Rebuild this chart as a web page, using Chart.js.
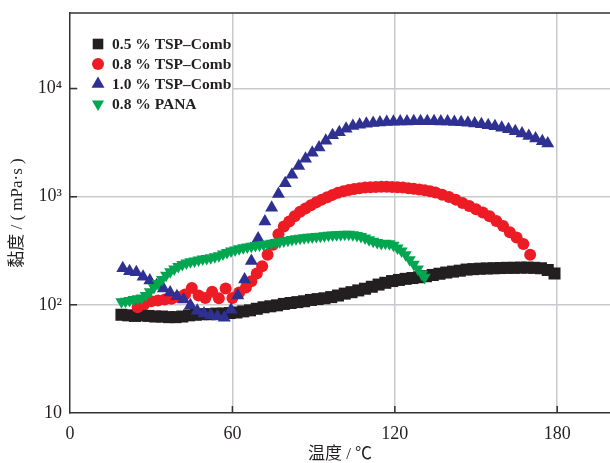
<!DOCTYPE html>
<html>
<head>
<meta charset="utf-8">
<script src="https://cdn.jsdelivr.net/npm/chart.js@4.4.1/dist/chart.umd.min.js"></script>
<style>
  body { margin: 0; background: #fff; overflow: hidden; }
  canvas { display: block; }
</style>
</head>
<body>
<canvas id="visco" width="610" height="463"></canvas>
<script>
const seriesNames = ['0.5 % TSP–Comb', '0.8 % TSP–Comb', '1.0 % TSP–Comb', '0.8 % PANA'];
const seriesColors = ['#231f20', '#ed1c24', '#2e3192', '#00a650'];

const xTicks = [0, 60, 120, 180];
const yTicks = [10, 100, 1000, 10000];
const yTickLabels = ['10', '10²', '10³', '10⁴'];

// 0.5 % TSP-Comb
const temp05 = [19, 21.5, 24, 26.5, 29, 31.5, 34, 36.5, 39, 41.5, 44, 46.5, 49, 51.5, 54, 56.5, 59, 61.5, 64, 66.5,
  69, 71.5, 74, 76.5, 79, 81.5, 84, 86.5, 89, 91.5, 94, 96.5, 99, 101.5, 104, 106.5, 109, 111.5, 114, 116.5,
  119, 121.5, 124, 126.5, 129, 131.5, 134, 136.5, 139, 141.5, 144, 146.5, 149, 151.5, 154, 156.5, 159, 161.5, 164, 166.5,
  169, 171.5, 174, 176.5, 179];
const visc05 = [81, 80, 79, 80, 79, 78, 78, 77, 77, 78, 80, 81, 82, 82, 83, 83, 84, 85, 87, 89,
  92, 95, 97, 99, 102, 104, 106, 108, 111, 113, 115, 118, 122, 127, 131, 136, 141, 147, 154, 160,
  166, 170, 174, 177, 180, 184, 189, 194, 199, 203, 207, 212, 214, 216, 217, 218, 219, 220, 220, 221,
  221, 220, 218, 210, 195];

// 0.8 % TSP-Comb
const temp08 = [25, 27.5, 30, 32.5, 35, 37.5, 40, 42.5, 45, 47.5, 50, 52.5, 55, 57.5, 60, 62.5, 65, 67, 69, 71,
  73, 75, 77, 79, 81, 83, 85, 87, 89, 91, 93, 95, 97, 99, 101, 103, 105, 107, 109, 111,
  113, 115, 117, 119, 121, 123, 125, 127, 129, 131, 133, 135, 137.5, 140, 142.5, 145, 147.5, 150, 152.5, 155,
  157.5, 160, 162.5, 165, 167.5, 170];
const visc08 = [95, 102, 108, 110, 112, 114, 118, 125, 143, 122, 116, 132, 115, 142, 116, 130, 145, 165, 195, 228,
  290, 360, 450, 530, 590, 660, 725, 780, 835, 890, 940, 990, 1040, 1090, 1125, 1155, 1180, 1200, 1215, 1225,
  1232, 1235, 1235, 1232, 1225, 1215, 1200, 1185, 1168, 1150, 1125, 1095, 1045, 995, 940, 875, 820, 765, 715, 660,
  595, 535, 470, 420, 365, 290];

// 1.0 % TSP-Comb
const temp10 = [19.5, 22, 24.5, 27, 29.5, 32, 34.5, 37, 39.5, 42, 44.5, 47, 49.5, 52, 54.5, 57, 59.5, 62, 64.5, 67,
  69.5, 72, 74.5, 77, 79.5, 82, 84.5, 87, 89.5, 92, 94.5, 97, 99.5, 102, 104.5, 107, 109.5, 112, 114.5, 117,
  119.5, 122, 124.5, 127, 129.5, 132, 134.5, 137, 139.5, 142, 144.5, 147, 149.5, 152, 154.5, 157, 159.5, 162, 164.5, 167,
  169.5, 172, 174.5, 176.5];
const visc10 = [218, 205, 200, 182, 168, 152, 142, 130, 120, 112, 99, 88, 83, 80, 78, 76, 90, 122, 172, 255,
  410, 590, 790, 1060, 1330, 1600, 1920, 2250, 2550, 2850, 3300, 3700, 3950, 4250, 4500, 4620, 4720, 4800, 4850, 4900,
  4930, 4950, 4970, 4980, 4990, 4990, 4980, 4970, 4950, 4920, 4880, 4830, 4760, 4680, 4590, 4480, 4350, 4200, 4030, 3850,
  3650, 3450, 3250, 3100];

// 0.8 % PANA
const tempPana = [19, 20.5, 22, 23.5, 25, 26.5, 28, 29.5, 31, 32.5, 34, 35.5, 37, 38.5, 40, 41.5, 43, 44.5, 46, 47.5,
  49, 50.5, 52, 53.5, 55, 56.5, 58, 59.5, 61, 62.5, 64, 65.5, 67, 68.5, 70, 71.5, 73, 74.5, 76, 77.5,
  79, 80.5, 82, 83.5, 85, 86.5, 88, 89.5, 91, 92.5, 94, 95.5, 97, 98.5, 100, 101.5, 103, 104.5, 106, 107.5,
  109, 110.5, 112, 113.5, 115, 116.5, 118, 119.5, 121, 122.5, 124, 125.5, 127, 128.5, 130, 131];
const viscPana = [107, 108, 110, 112, 114, 116, 122, 132, 145, 158, 172, 188, 202, 215, 226, 236, 244, 250, 255, 260,
  265, 269, 273, 278, 285, 295, 305, 314, 322, 330, 337, 343, 349, 354, 358, 362, 366, 372, 378, 384,
  390, 396, 402, 408, 413, 417, 421, 425, 429, 432, 436, 440, 443, 446, 448, 450, 449, 445, 438, 428,
  415, 400, 388, 378, 370, 372, 368, 355, 336, 315, 290, 262, 238, 215, 192, 180];

const pts = (xs, ys) => xs.map((t, i) => ({x: t, y: ys[i]}));

const serif = "'Liberation Serif', 'DejaVu Serif', serif";
const cjk = "'Liberation Serif', 'Noto Sans CJK SC', serif";
const ink = '#231f20';
const gridColor = '#c9c9cd';

const markers = [
  {pointStyle: 'rect', rotation: 0, radius: 8.5},
  {pointStyle: 'circle', rotation: 0, radius: 6},
  {pointStyle: 'triangle', rotation: 0, radius: 7.5},
  {pointStyle: 'triangle', rotation: 180, radius: 7}
];

const frame = {
  id: 'frame',
  beforeDatasetsDraw(chart) {
    const {ctx, chartArea: a, scales: {x, y}} = chart;
    ctx.save();
    ctx.strokeStyle = '#333';
    ctx.lineWidth = 1.5;
    ctx.beginPath();
    ctx.moveTo(a.left, a.top);
    ctx.lineTo(a.right, a.top);
    xTicks.slice(1).forEach(v => {
      const px = x.getPixelForValue(v);
      ctx.moveTo(px, a.bottom);
      ctx.lineTo(px, a.bottom - 7);
    });
    yTicks.slice(1).forEach(v => {
      const py = y.getPixelForValue(v);
      ctx.moveTo(a.left, py);
      ctx.lineTo(a.left + 7, py);
    });
    ctx.stroke();
    ctx.restore();
  },
  afterDatasetsDraw(chart) {
    const ctx = chart.ctx;
    ctx.save();
    ctx.fillStyle = '#fff';
    ctx.fillRect(78, 31, 154, 84);
    ctx.font = 'bold 15.5px ' + serif;
    ctx.textBaseline = 'middle';
    seriesNames.forEach((name, i) => {
      const yy = 44 + i * 20;
      ctx.fillStyle = seriesColors[i];
      Chart.helpers.drawPoint(ctx, {...markers[i], radius: i === 0 ? 7.5 : markers[i].radius, borderWidth: 0}, 98, yy);
      ctx.fillStyle = ink;
      ctx.fillText(name, 112, yy + 1);
    });
    ctx.restore();
  }
};

const sets = [[temp05, visc05], [temp08, visc08], [temp10, visc10], [tempPana, viscPana]];

new Chart(document.getElementById('visco'), {
  type: 'scatter',
  data: {
    datasets: sets.map((s, i) => ({
      label: seriesNames[i],
      data: pts(s[0], s[1]),
      backgroundColor: seriesColors[i],
      borderWidth: 0,
      pointStyle: markers[i].pointStyle,
      rotation: markers[i].rotation,
      pointRadius: markers[i].radius,
      order: 4 - i
    }))
  },
  options: {
    responsive: false,
    animation: false,
    layout: { autoPadding: false, padding: { top: 13, right: 0, left: 0, bottom: 0 } },
    plugins: {
      legend: { display: false },
      tooltip: { enabled: false }
    },
    scales: {
      x: {
        type: 'linear',
        min: 0,
        max: 199.5,
        afterBuildTicks: s => { s.ticks = xTicks.map(v => ({value: v})); },
        afterFit: s => { s.height = 50; },
        grid: {
          color: c => c.tick && c.tick.value === 0 ? 'rgba(0,0,0,0)' : gridColor,
          lineWidth: 1.5,
          drawTicks: false
        },
        border: { display: true, color: '#333', width: 1.5 },
        ticks: {
          color: ink,
          font: { family: serif, size: 18 },
          padding: 10,
          maxRotation: 0
        },
        title: {
          display: true,
          text: '温度 / ℃',
          color: ink,
          font: { family: cjk, size: 17, lineHeight: 1 },
          padding: { top: 0, bottom: 0 }
        }
      },
      y: {
        type: 'logarithmic',
        min: 10,
        max: 50000,
        afterBuildTicks: s => { s.ticks = yTicks.map(v => ({value: v})); },
        afterFit: s => { s.width = 70; s.paddingTop = 0; s.paddingBottom = 0; },
        grid: {
          color: c => c.tick && c.tick.value === 10 ? 'rgba(0,0,0,0)' : gridColor,
          lineWidth: 1.5,
          drawTicks: false
        },
        border: { display: true, color: '#333', width: 1.5 },
        ticks: {
          color: ink,
          font: { family: serif, size: 18 },
          padding: 8,
          callback: v => yTickLabels[yTicks.indexOf(v)]
        },
        title: {
          display: true,
          text: '黏度 / ( mPa·s )',
          color: ink,
          font: { family: cjk, size: 17, lineHeight: 1 },
          padding: { top: 9, bottom: 0 }
        }
      }
    }
  },
  plugins: [frame]
});
</script>
</body>
</html>
